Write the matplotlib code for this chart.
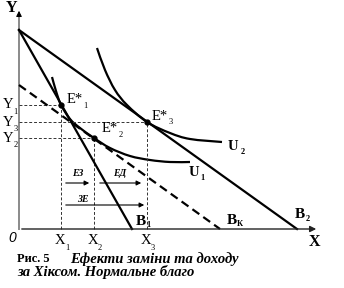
import matplotlib
matplotlib.use('Agg')
import matplotlib.pyplot as plt
from matplotlib.path import Path
from matplotlib.patches import PathPatch

plt.rcParams['font.family'] = ['Liberation Serif', 'DejaVu Serif']

# бюджетні лінії: спільна точка на осі Y та перетини з віссю X
y_top = 199
x_b1 = 113
x_b2 = 278
y_bk = 144
x_bk = 201

# точки рівноваги E*1, E*2, E*3
eq_x = [42, 75, 128]
eq_y = [124, 91, 107]
eq_names = ['1', '2', '3']

# криві байдужості
u1_x = [33, 37, 42, 51, 61, 75, 91, 111, 131, 151, 171]
u1_y = [152, 138, 124, 110, 101, 91, 81, 73, 69, 67, 67]
u2_x = [78, 86, 96, 108, 128, 151, 171, 203]
u2_y = [181, 159, 139, 124, 107, 96, 90, 87]

caption_1a = 'Рис. 5'
caption_1b = 'Ефекти заміни та доходу'
caption_2 = 'за Хіксом. Нормальне благо'


def smooth_curve(xs, ys):
    # гладка крива через усі точки (кубічні сегменти Безьє)
    pts = list(zip(xs, ys))
    n = len(pts)
    verts = [pts[0]]
    codes = [Path.MOVETO]
    for i in range(n - 1):
        p0 = pts[max(i - 1, 0)]
        p1 = pts[i]
        p2 = pts[i + 1]
        p3 = pts[min(i + 2, n - 1)]
        c1 = (p1[0] + (p2[0] - p0[0]) / 6, p1[1] + (p2[1] - p0[1]) / 6)
        c2 = (p2[0] - (p3[0] - p1[0]) / 6, p2[1] - (p3[1] - p1[1]) / 6)
        verts += [c1, c2, p2]
        codes += [Path.CURVE4] * 3
    return PathPatch(Path(verts, codes), fill=False, lw=1.6, ec='black', capstyle='butt')


fig = plt.figure(figsize=(3.44, 2.88), dpi=100)
ax = fig.add_axes([0, 0, 1, 1])
ax.set_xlim(-19, 325)
ax.set_ylim(-59, 229)
ax.axis('off')

# осі
ax.plot([0, 0], [0, 214], color='#8a8a8a', lw=1.4)
ax.annotate('', xy=(0, 221), xytext=(0, 211),
            arrowprops=dict(arrowstyle='-|>', color='black', lw=0.8, mutation_scale=8))
ax.annotate('', xy=(300, 0), xytext=(0, 0),
            arrowprops=dict(arrowstyle='-|>', color='#222222', lw=1.0, mutation_scale=9))

# допоміжні пунктирні лінії
for i in range(3):
    ax.plot([0, eq_x[i]], [eq_y[i], eq_y[i]], color='#333333', lw=0.7, dashes=(3, 2))
    ax.plot([eq_x[i], eq_x[i]], [0, eq_y[i]], color='#333333', lw=0.7, dashes=(3, 2))

# бюджетні лінії
ax.plot([0, x_b1], [y_top, 0], color='black', lw=1.6)
ax.plot([0, x_b2], [y_top, 0], color='black', lw=1.6)
ax.plot([0, x_bk], [y_bk, 0], color='black', lw=1.6, dashes=(3.8, 2.2))

# криві байдужості
ax.add_patch(smooth_curve(u1_x, u1_y))
ax.add_patch(smooth_curve(u2_x, u2_y))

ax.plot(eq_x, eq_y, 'o', color='black', markersize=3.5)


def label(x, y, main, sub, size=10.5, weight='normal', dx=7, dy=-6):
    ax.text(x, y, main, ha='center', va='center', fontsize=size, fontweight=weight)
    ax.text(x + dx, y + dy, sub, ha='center', va='center', fontsize=6, fontweight=weight)


# підписи на осях
for name, yy in zip(eq_names, eq_y):
    label(-11, yy, 'Y', name, dx=7.5, dy=-7)
for name, xx in zip(eq_names, eq_x):
    label(xx - 1, -12, 'X', name, dx=7, dy=-7)

label(55.5, 129.5, 'E*', '1', dx=11, dy=-6)
label(90.5, 100, 'E*', '2', dx=11, dy=-6)
label(141, 112.5, 'E*', '3', dx=11, dy=-6)

label(122, 7.5, 'B', '1', size=11, weight='bold', dx=7, dy=-3.5)
label(213, 8, 'B', 'К', size=11, weight='bold', dx=8, dy=-3.5)
label(281, 15, 'B', '2', size=11, weight='bold', dx=8, dy=-5)
label(175, 57, 'U', '1', size=10.5, weight='bold', dx=8, dy=-6)
label(214, 82.5, 'U', '2', size=10.5, weight='bold', dx=10, dy=-5.5)

ax.text(295, -13, 'X', ha='center', va='center', fontsize=11.5, fontweight='bold')
ax.text(-7, 221, 'Y', ha='center', va='center', fontsize=11.5, fontweight='bold')
ax.text(-6.5, -8.5, '0', ha='center', va='center', fontsize=10, style='italic',
        family='Liberation Sans')

# ефекти заміни та доходу
arrow = dict(arrowstyle='-|>', color='black', lw=0.8, mutation_scale=7)
ax.annotate('', xy=(eq_x[1] - 2, 46), xytext=(eq_x[0] + 2, 46), arrowprops=arrow)
ax.annotate('', xy=(eq_x[2] - 3, 46), xytext=(eq_x[1] + 3, 46), arrowprops=arrow)
ax.annotate('', xy=(eq_x[2], 24), xytext=(eq_x[0] + 2, 24), arrowprops=arrow)
ax.text(59, 56, 'ЕЗ', ha='center', va='center', fontsize=7, style='italic', fontweight='bold')
ax.text(101, 56, 'ЕД', ha='center', va='center', fontsize=7, style='italic', fontweight='bold')
ax.text(64, 30, 'ЗЕ', ha='center', va='center', fontsize=7, style='italic', fontweight='bold')

# підпис рисунка
ax.text(-2, -30, caption_1a, ha='left', va='center', fontsize=9, fontweight='bold')
ax.text(51, -30, caption_1b, ha='left', va='center', fontsize=10.5, fontweight='bold', style='italic')
ax.text(-2, -43, caption_2, ha='left', va='center', fontsize=10.5, fontweight='bold', style='italic')

fig.savefig('out.png', dpi=100)
